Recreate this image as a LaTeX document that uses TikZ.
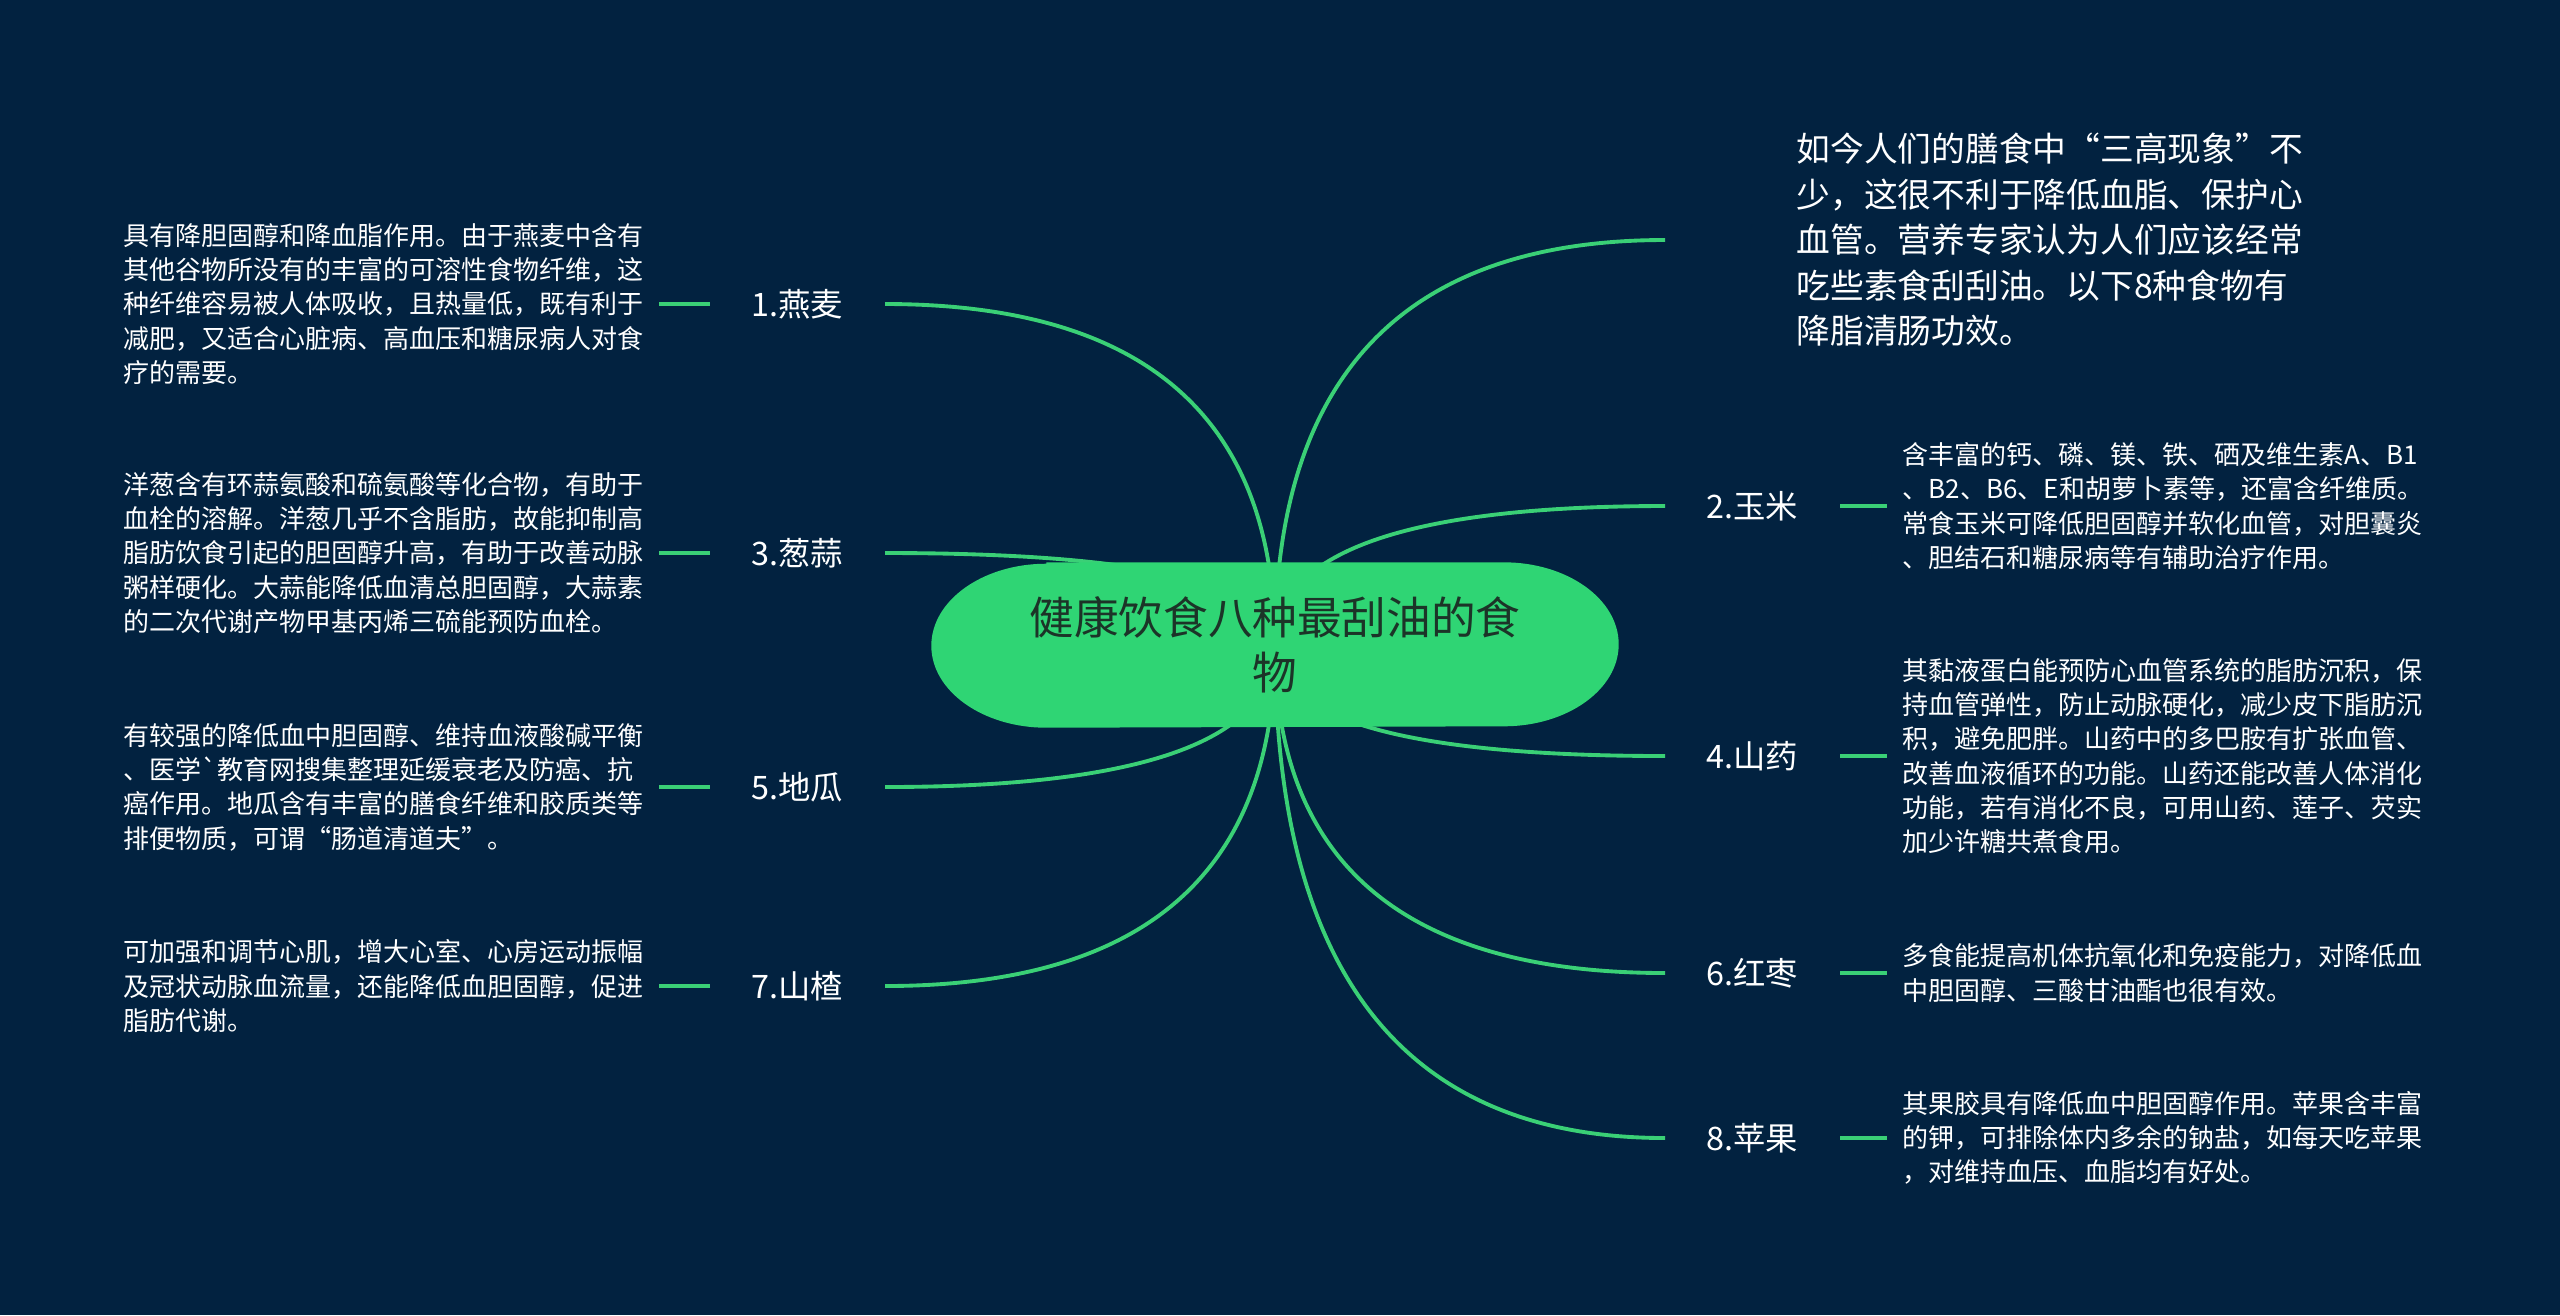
\documentclass[tikz,border=0pt]{standalone}
\usepackage{fontspec}
\setmainfont{Noto Sans CJK SC}
\usetikzlibrary{positioning,calc}
\definecolor{NightBlue}{RGB}{2,34,64}
\definecolor{LeafGreen}{RGB}{58,208,118}
\definecolor{PillGreen}{RGB}{47,213,116}
\definecolor{TitleInk}{RGB}{28,52,40}
\pgfdeclarelayer{bg}
\pgfsetlayers{bg,main}
\tikzset{
  link/.style={draw=LeafGreen,line width=1.1pt},
  rootpill/.style={minimum width=6.86cm,minimum height=1.64cm,inner sep=0pt,
    align=center,text=TitleInk,font=\fontsize{12.7}{15.8}\selectfont},
  branchlbl/.style={text=white,inner xsep=0.41cm,inner ysep=0.1cm,
    font=\fontsize{9.2}{11}\selectfont},
  leafnote/.style={text=white,text width=5.2cm,inner xsep=0.15cm,inner ysep=0pt,
    align=left,font=\fontsize{7.4}{9.75}\selectfont},
  intronote/.style={text=white,inner sep=0pt,align=left,
    font=\fontsize{9.6}{12.95}\selectfont}
}

\begin{document}
\begin{tikzpicture}
  \begin{pgfonlayer}{bg}
    \fill[NightBlue] (0,0) rectangle (25.6,-13.15);
  \end{pgfonlayer}
  \useasboundingbox (0,0) rectangle (25.6,-13.15);

  \node[rootpill] (root) at (12.75,-6.45) {健康饮食八种最刮油的食\\物};

  % left branches
  \node[branchlbl,anchor=east] (oat) at (8.85,-3.04) {1.燕麦};
  \node[branchlbl,anchor=east] (onion) at (8.85,-5.53) {3.葱蒜};
  \node[branchlbl,anchor=east] (potato) at (8.85,-7.87) {5.地瓜};
  \node[branchlbl,anchor=east] (haw) at (8.85,-9.86) {7.山楂};
  \node[leafnote,left=0.51cm of oat] (oatnote) {具有降胆固醇和降血脂作用。由于燕麦中含有\\其他谷物所没有的丰富的可溶性食物纤维，这\\种纤维容易被人体吸收，且热量低，既有利于\\减肥，又适合心脏病、高血压和糖尿病人对食\\疗的需要。};
  \node[leafnote,left=0.51cm of onion] (onionnote) {洋葱含有环蒜氨酸和硫氨酸等化合物，有助于\\血栓的溶解。洋葱几乎不含脂肪，故能抑制高\\脂肪饮食引起的胆固醇升高，有助于改善动脉\\粥样硬化。大蒜能降低血清总胆固醇，大蒜素\\的二次代谢产物甲基丙烯三硫能预防血栓。};
  \node[leafnote,left=0.51cm of potato] (potatonote) {有较强的降低血中胆固醇、维持血液酸碱平衡\\、医学\textasciigrave 教育网搜集整理延缓衰老及防癌、抗\\癌作用。地瓜含有丰富的膳食纤维和胶质类等\\排便物质，可谓“肠道清道夫”。};
  \node[leafnote,left=0.51cm of haw] (hawnote) {可加强和调节心肌，增大心室、心房运动振幅\\及冠状动脉血流量，还能降低血胆固醇，促进\\脂肪代谢。};

  % right branches
  \coordinate (introend) at (16.65,-2.40);
  \node[intronote,right=1.31cm of introend] (intro) {如今人们的膳食中“三高现象”不\\少，这很不利于降低血脂、保护心\\血管。营养专家认为人们应该经常\\吃些素食刮刮油。以下8种食物有\\降脂清肠功效。};
  \node[branchlbl,anchor=west] (corn) at (16.65,-5.06) {2.玉米};
  \node[branchlbl,anchor=west] (yam) at (16.65,-7.56) {4.山药};
  \node[branchlbl,anchor=west] (jujube) at (16.65,-9.73) {6.红枣};
  \node[branchlbl,anchor=west] (apple) at (16.65,-11.38) {8.苹果};
  \node[leafnote,right=0.47cm of corn] (cornnote) {含丰富的钙、磷、镁、铁、硒及维生素A、B1\\、B2、B6、E和胡萝卜素等，还富含纤维质。\\常食玉米可降低胆固醇并软化血管，对胆囊炎\\、胆结石和糖尿病等有辅助治疗作用。};
  \node[leafnote,right=0.47cm of yam] (yamnote) {其黏液蛋白能预防心血管系统的脂肪沉积，保\\持血管弹性，防止动脉硬化，减少皮下脂肪沉\\积，避免肥胖。山药中的多巴胺有扩张血管、\\改善血液循环的功能。山药还能改善人体消化\\功能，若有消化不良，可用山药、莲子、芡实\\加少许糖共煮食用。};
  \node[leafnote,right=0.47cm of jujube] (jujubenote) {多食能提高机体抗氧化和免疫能力，对降低血\\中胆固醇、三酸甘油酯也很有效。};
  \node[leafnote,right=0.47cm of apple] (applenote) {其果胶具有降低血中胆固醇作用。苹果含丰富\\的钾，可排除体内多余的钠盐，如每天吃苹果\\，对维持血压、血脂均有好处。};

  % short ticks between label and note
  \foreach \n in {oat,onion,potato,haw}
    \draw[link] (\n.west) -- (\n note.east);
  \foreach \n in {corn,yam,jujube,apple}
    \draw[link] (\n.east) -- (\n note.west);

  \begin{pgfonlayer}{bg}
    \foreach \e in {oat.east,onion.east,potato.east,haw.east,introend,corn.west,yam.west,jujube.west,apple.west}
      \draw[link] (root.center) .. controls ($(root.center)!2/3!(root.center |- \e)$) and ($(\e)!2/3!(root.center |- \e)$) .. (\e);
    % pill behind the title
    \fill[PillGreen] ([xshift=1.15cm]root.north west) -- ([xshift=-1.15cm]root.north east)
      arc[start angle=90,end angle=-90,x radius=1.15cm,y radius=0.82cm]
      -- ([xshift=1.15cm]root.south west)
      arc[start angle=270,end angle=90,x radius=1.15cm,y radius=0.82cm] -- cycle;
  \end{pgfonlayer}
\end{tikzpicture}
\end{document}
